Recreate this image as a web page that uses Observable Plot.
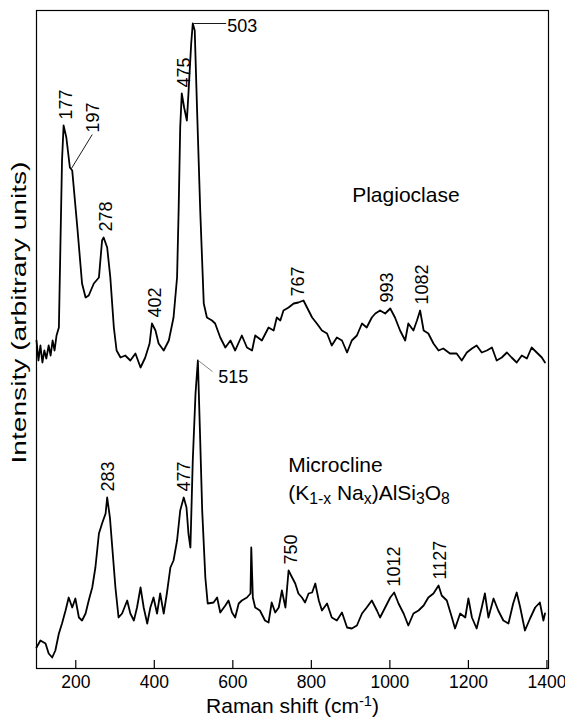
<!DOCTYPE html>
<html><head><meta charset="utf-8">
<script src="https://cdn.jsdelivr.net/npm/d3@7"></script>
<script src="https://cdn.jsdelivr.net/npm/@observablehq/plot@0.6"></script>
<style>body{margin:0;background:#fff}</style>
</head><body><div id="chart"></div>
<script>
// Raman shift (cm-1) and intensity (arbitrary units)
const plagShift = [100,105,110,115,120,125,131,136,141,146,151,157,161,165,169,176,185,191,204,216,225,233,246,259,267,271,280,288,297,304,314,326,339,352,365,377,388,394,403,411,424,437,449,458,462,466,470,476,483,487,494,498,503,509,517,526,534,547,555,568,581,594,606,623,636,649,657,674,691,704,712,721,729,742,755,767,780,789,802,814,827,840,852,865,878,891,903,916,929,941,954,963,975,988,1001,1013,1026,1039,1047,1060,1069,1077,1086,1098,1111,1124,1136,1153,1170,1183,1196,1209,1221,1234,1247,1260,1272,1285,1298,1310,1323,1336,1349,1361,1374,1387,1395];
const plagIntensity = [328,308,323,306,318,310,323,313,328,318,333,341,425,508,543,531,501,498,441,385,371,373,385,391,428,431,421,391,341,318,311,313,308,315,301,311,325,345,338,325,318,328,351,391,458,541,575,561,548,575,625,645,638,558,458,365,351,348,345,331,321,328,318,333,321,318,333,328,341,338,351,348,358,361,365,366,368,361,351,345,338,335,323,331,328,316,328,333,345,341,351,355,358,355,360,351,338,328,345,338,348,358,338,335,325,318,320,315,315,308,316,320,323,316,318,321,308,311,316,311,306,313,310,321,316,311,306];
const microShift = [100,110,123,131,140,148,157,165,174,182,191,199,208,216,225,233,242,250,259,267,276,280,287,293,301,309,318,331,339,348,356,365,373,382,390,398,407,415,424,432,441,449,458,466,475,482,487,492,498,505,511,516,522,530,536,551,560,568,581,589,598,606,615,623,636,645,647,651,657,669,682,691,699,708,717,725,734,742,751,759,767,776,784,793,802,810,819,827,840,852,865,878,891,903,916,929,941,954,967,975,988,1001,1011,1022,1035,1047,1060,1073,1086,1098,1111,1124,1132,1145,1158,1166,1179,1192,1200,1209,1221,1234,1242,1251,1264,1276,1289,1302,1314,1323,1332,1344,1357,1370,1382,1391,1395];
const microIntensity = [21,28,25,15,11,18,35,45,58,71,61,70,51,48,55,68,81,101,135,145,155,171,151,121,81,51,55,68,55,48,61,81,61,45,61,71,55,75,55,75,101,108,128,158,171,161,135,121,208,275,308,241,158,91,65,66,71,56,63,68,56,51,65,68,71,75,121,71,61,58,48,46,66,56,61,78,61,98,91,85,75,71,66,75,76,85,68,58,65,51,48,56,41,40,43,55,61,68,58,51,61,71,76,65,55,43,55,58,63,71,75,83,73,68,51,40,55,51,70,51,40,61,75,51,70,58,48,45,65,76,61,38,50,61,66,48,55];

const xTicks = [200,400,600,800,1000,1200,1400];
const peakLabels = ["177","278","402","475","767","993","1082","283","477","750","1012","1127"];
const peakSeries = ["Plagioclase","Plagioclase","Plagioclase","Plagioclase","Plagioclase","Plagioclase","Plagioclase","Microcline","Microcline","Microcline","Microcline","Microcline"];
// callout labels with leader lines
const calloutLabels = ["197","503","515"];
const calloutPeakShift = [189,500,512];
const calloutPeakIntensity = [500,645,308];
const calloutEndShift = [242,583,548];
const calloutEndIntensity = [534,645,297];
const calloutTextShift = [245,586,563];
const calloutTextIntensity = [536,642,291];
const sampleNames = ["Plagioclase","Microcline","(K1-x Nax)AlSi3O8"];
const sampleShift = [904,741,741];
const sampleIntensity = [473,203,175];

const series = {
  Plagioclase: plagShift.map((s,i)=>({shift:s, intensity:plagIntensity[i]})),
  Microcline: microShift.map((s,i)=>({shift:s, intensity:microIntensity[i]}))
};
const peaks = peakLabels.map((lab,i)=>{
  const v = +lab;
  const pts = series[peakSeries[i]].filter(d=>Math.abs(d.shift - v) <= 10);
  return {shift: v, intensity: d3.max(pts, d=>d.intensity), text: lab};
});
const callouts = calloutLabels.map((lab,i)=>({text:lab, x1:calloutPeakShift[i], y1:calloutPeakIntensity[i], x2:calloutEndShift[i], y2:calloutEndIntensity[i], tx:calloutTextShift[i], ty:calloutTextIntensity[i]}));
const names = sampleNames.map((t,i)=>({text:t, shift:sampleShift[i], intensity:sampleIntensity[i]}));

const font = "'Liberation Sans', Arial, Helvetica, sans-serif";
const chart = Plot.plot({
  width: 565, height: 719,
  marginLeft: 36, marginRight: 17, marginTop: 10, marginBottom: 51,
  style: {fontFamily: font, background: "#fff", color: "#000"},
  x: {domain: [100, 1404], axis: null},
  y: {domain: [0, 658], axis: null},
  marks: [
    Plot.line(series.Plagioclase, {x: "shift", y: "intensity", stroke: "#000", strokeWidth: 1.8}),
    Plot.line(series.Microcline, {x: "shift", y: "intensity", stroke: "#000", strokeWidth: 1.8}),
    Plot.ruleX(xTicks, {x: d=>d, y1: 0, y2: 8, stroke: "#000", strokeWidth: 1.2}),
    Plot.axisX({ticks: xTicks, tickSize: 0, tickPadding: 7, fontSize: 17.5, label: null, tickFormat: d=>String(d)}),
    Plot.frame({stroke: "#000", strokeWidth: 1.2}),
    Plot.text(peaks, {x: "shift", y: "intensity", text: "text", rotate: -90, textAnchor: "start", dy: -6, fontSize: 18, fill: "#000"}),
    Plot.link(callouts, {x1: "x1", y1: "y1", x2: "x2", y2: "y2", stroke: d=>d.text==="515" ? "#777" : "#000", strokeWidth: 0.9}),
    Plot.text(callouts.filter(d=>d.text==="197"), {x: "tx", y: "ty", text: "text", rotate: -90, textAnchor: "start", fontSize: 18, fill: "#000"}),
    Plot.text(callouts.filter(d=>d.text!=="197"), {x: "tx", y: "ty", text: "text", textAnchor: "start", fontSize: 18, fill: "#000"}),
    Plot.text(names, {x: "shift", y: "intensity", text: "text", textAnchor: "start", fontSize: 21, fill: "#000"}),
    Plot.text(["Raman shift (cm-1)"], {frameAnchor: "bottom", textAnchor: "middle", lineAnchor: "middle", dy: 38, text: d=>d, fontSize: 21, fill: "#000"}),
    Plot.text(["Intensity (arbitrary units)"], {frameAnchor: "left", textAnchor: "middle", lineAnchor: "middle", dx: -17, dy: -27, rotate: -90, text: d=>d, fontSize: 20, fill: "#000"})
  ]
});
document.getElementById("chart").appendChild(chart);

// rich text: sub/superscripts
function rich(el, parts, size) {
  const t = d3.select(el);
  t.text(null);
  parts.forEach(([s, kind]) => {
    const ts = t.append("tspan").text(s);
    if (kind === "sub") ts.attr("font-size", size*0.75).attr("baseline-shift", "-25%");
    if (kind === "sup") ts.attr("font-size", size*0.7).attr("baseline-shift", "45%");
  });
}
d3.select(chart).selectAll("text").each(function(){
  const s = this.textContent;
  if (s === "Raman shift (cm-1)") rich(this, [["Raman shift (cm"],["-1","sup"],[")"]], 21);
  if (s === "(K1-x Nax)AlSi3O8") rich(this, [["(K"],["1-x","sub"],[" Na"],["x","sub"],[")AlSi"],["3","sub"],["O"],["8","sub"]], 21);
  if (s === "Intensity (arbitrary units)") {
    this.setAttribute("textLength", 302);
    this.setAttribute("lengthAdjust", "spacingAndGlyphs");
  }
});
</script>
</body></html>
